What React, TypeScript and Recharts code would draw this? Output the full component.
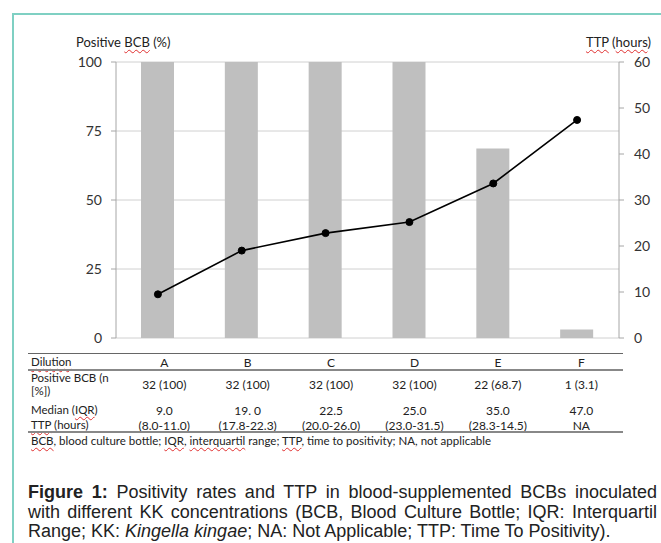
import React from "react";
import { ComposedChart, Bar, Line, XAxis, YAxis, CartesianGrid } from "recharts";

const dilutions = ["A", "B", "C", "D", "E", "F"];
const positivePct = [100, 100, 100, 100, 68.7, 3.1];
const ttpPlotted = [9.5, 19, 22.8, 25.2, 33.6, 47.4];
const leftTicks = [0, 25, 50, 75, 100];
const rightTicks = [0, 10, 20, 30, 40, 50, 60];

const positiveLabels = ["32 (100)", "32 (100)", "32 (100)", "32 (100)", "22 (68.7)", "1 (3.1)"];
const medianLabels = ["9.0", "19. 0", "22.5", "25.0", "35.0", "47.0"];
const iqrLabels = ["(8.0-11.0)", "(17.8-22.3)", "(20.0-26.0)", "(23.0-31.5)", "(28.3-14.5)", "NA"];

const chartData = dilutions.map((d, i) => ({ dilution: d, pct: positivePct[i], ttp: ttpPlotted[i] }));

const wavy: React.CSSProperties = {
    textDecorationLine: "underline",
    textDecorationStyle: "wavy",
    textDecorationColor: "#e03030",
    textDecorationThickness: "1px",
    textUnderlineOffset: "2px",
};

const tableFont = "Lato, 'Open Sans', sans-serif";

function Row({ top, height, label, values, labelLineHeight }: {
    top: number; height: number; label: React.ReactNode; values: string[]; labelLineHeight?: number;
}) {
    return (
        <div style={{ position: "absolute", left: 28, top, width: 595, height, display: "flex", alignItems: "center" }}>
            <div style={{ width: 92, paddingLeft: 3, fontSize: 11.5, lineHeight: (labelLineHeight ?? height) + "px", whiteSpace: "nowrap" }}>{label}</div>
            {values.map((v, i) => (
                <div key={i} style={{ width: 83.8, textAlign: "center", fontSize: 12, whiteSpace: "nowrap" }}>{v}</div>
            ))}
        </div>
    );
}

const captionLine: React.CSSProperties = { height: 19.5, lineHeight: "19.5px", textAlign: "justify", textAlignLast: "justify", whiteSpace: "nowrap" };

export default function App() {
    return (
        <div style={{ position: "absolute", left: 0, top: 0, width: 661, height: 543, background: "#fff", overflow: "hidden" }}>
            {/* teal frame */}
            <div style={{ position: "absolute", left: 12, top: 13, width: 700, height: 600, borderLeft: "2px solid #7fd0c3", borderTop: "2px solid #7fd0c3" }} />

            <div style={{ position: "absolute", left: 76, top: 34, fontFamily: tableFont, fontSize: 13, color: "#222", lineHeight: "16px" }}>
                Positive <span style={wavy}>BCB</span> (%)
            </div>
            <div style={{ position: "absolute", right: 10, top: 34, fontFamily: tableFont, fontSize: 13, color: "#222", lineHeight: "16px" }}>
                <span style={wavy}>TTP</span> (<span style={wavy}>hours</span>)
            </div>

            <div style={{ position: "absolute", left: 0, top: 0 }}>
                <ComposedChart width={661} height={360} data={chartData} margin={{ top: 62, right: 0, bottom: 22, left: 0 }}>
                    <CartesianGrid vertical={false} stroke="#d0d0d0" yAxisId="left" />
                    <XAxis dataKey="dilution" tick={false} tickLine={false} height={0} axisLine={{ stroke: "#a6a6a6" }} />
                    <YAxis yAxisId="left" domain={[0, 100]} ticks={leftTicks} width={116} tickSize={5} tickMargin={9}
                        axisLine={{ stroke: "#a6a6a6" }} tickLine={{ stroke: "#a6a6a6" }}
                        tick={{ fill: "#333", fontSize: 14, fontFamily: tableFont }} />
                    <YAxis yAxisId="right" orientation="right" domain={[0, 60]} ticks={rightTicks} width={42} tickSize={5} tickMargin={10}
                        axisLine={{ stroke: "#a6a6a6" }} tickLine={{ stroke: "#a6a6a6" }}
                        tick={{ fill: "#333", fontSize: 14, fontFamily: tableFont, textAnchor: "start" }} />
                    <Bar yAxisId="left" dataKey="pct" fill="#bfbfbf" barSize={33} isAnimationActive={false} />
                    <Line yAxisId="right" type="linear" dataKey="ttp" stroke="#000" strokeWidth={1.6}
                        dot={{ r: 3.5, fill: "#000", stroke: "#000", strokeWidth: 1 }} isAnimationActive={false} />
                </ComposedChart>
            </div>

            {/* table under chart */}
            <div style={{ fontFamily: tableFont, color: "#222" }}>
                <div style={{ position: "absolute", left: 28, top: 353, width: 595, height: 1, background: "#666" }} />
                <Row top={355} height={14} label={<span style={wavy}>Dilution</span>} values={dilutions} />
                <div style={{ position: "absolute", left: 28, top: 369, width: 595, height: 2, background: "#888" }} />
                <Row top={371} height={26} labelLineHeight={13} label={<>Positive BCB (n<br />[%])</>} values={positiveLabels} />
                <Row top={403} height={14} label={<>Median (<span style={wavy}>IQR</span>)</>} values={medianLabels} />
                <Row top={418} height={14} label={<><span style={wavy}>TTP</span> (hours)</>} values={iqrLabels} />
                <div style={{ position: "absolute", left: 28, top: 431, width: 595, height: 2, background: "#888" }} />
                <div style={{ position: "absolute", left: 31, top: 434, fontSize: 11.5, lineHeight: "14px", whiteSpace: "nowrap" }}>
                    <span style={wavy}>BCB</span>, blood culture bottle; <span style={wavy}>IQR</span>, <span style={wavy}>interquartil</span> range; <span style={wavy}>TTP</span>, time to positivity; NA, not applicable
                </div>
            </div>

            <div style={{ position: "absolute", left: 28, top: 483, width: 629, fontFamily: "'Liberation Sans', Arial, sans-serif", fontSize: 18, color: "#222" }}>
                <div style={captionLine}><b>Figure 1:</b> Positivity rates and TTP in blood-supplemented BCBs inoculated</div>
                <div style={captionLine}>with different KK concentrations (BCB, Blood Culture Bottle; IQR: Interquartil</div>
                <div style={{ ...captionLine, textAlignLast: "left" }}>Range; KK: <i>Kingella kingae</i>; NA: Not Applicable; TTP: Time To Positivity).</div>
            </div>
        </div>
    );
}
